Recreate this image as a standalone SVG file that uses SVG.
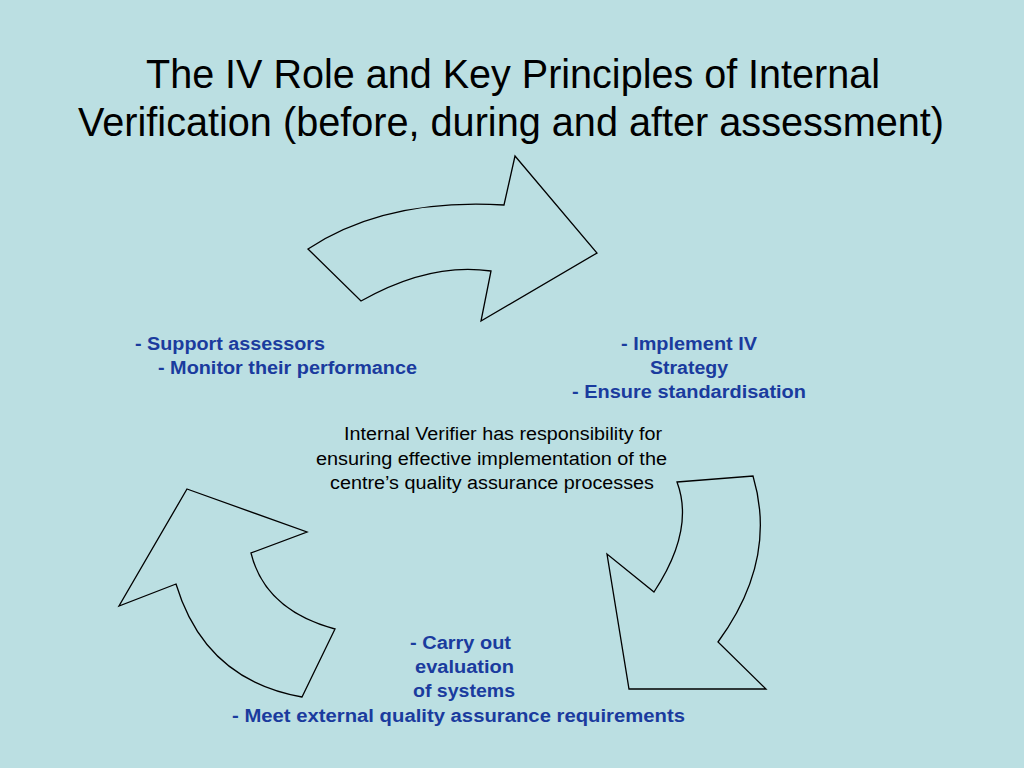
<svg xmlns="http://www.w3.org/2000/svg" width="1024" height="768" viewBox="0 0 1024 768">
<style>
.title{font-family:"Liberation Sans",Arial,sans-serif;font-size:40px;fill:#000}
.blue{font-family:"Liberation Sans",Arial,sans-serif;font-size:18px;font-weight:bold;fill:#1a3b9e}
.body{font-family:"Liberation Sans",Arial,sans-serif;font-size:18px;fill:#000}
.arrow{fill:#bbdfe2;stroke:#000;stroke-width:1.3;stroke-linejoin:miter}
</style>
<rect width="1024" height="768" fill="#bbdfe2"/>
<g id="title">
<text class="title" x="146" y="88" textLength="734" lengthAdjust="spacingAndGlyphs">The IV Role and Key Principles of Internal</text>
<text class="title" x="78" y="136" textLength="866" lengthAdjust="spacingAndGlyphs">Verification (before, during and after assessment)</text>
</g>
<g id="connectors">
<path id="arrow-top" class="arrow" d="M308,249 Q385,198 504,205 L515,156 L597,253 L481,321 L491,271 Q430,262 361,301 Z"/>
<path id="arrow-right" class="arrow" d="M677,482 L753,476 Q778,560 718,642 L766,689 L629,689 L607,554 L654,592 Q695,530 677,482 Z"/>
<path id="arrow-left" class="arrow" d="M187,489 L307,532 L251,553 Q265,610 335,629 L302,697 Q205,680 176,584 L119,606 Z"/>
</g>
<g id="node-left">
<text class="blue" x="135" y="350" textLength="190" lengthAdjust="spacingAndGlyphs">- Support assessors</text>
<text class="blue" x="158" y="374" textLength="259" lengthAdjust="spacingAndGlyphs">- Monitor their performance</text>
</g>
<g id="node-right">
<text class="blue" x="621" y="350" textLength="136" lengthAdjust="spacingAndGlyphs">- Implement IV</text>
<text class="blue" x="650" y="374" textLength="78" lengthAdjust="spacingAndGlyphs">Strategy</text>
<text class="blue" x="572" y="398" textLength="234" lengthAdjust="spacingAndGlyphs">- Ensure standardisation</text>
</g>
<g id="node-center">
<text class="body" x="344" y="440" textLength="318" lengthAdjust="spacingAndGlyphs">Internal Verifier has responsibility for</text>
<text class="body" x="316" y="465" textLength="351" lengthAdjust="spacingAndGlyphs">ensuring effective implementation of the</text>
<text class="body" x="330" y="489" textLength="324" lengthAdjust="spacingAndGlyphs">centre’s quality assurance processes</text>
</g>
<g id="node-bottom">
<text class="blue" x="410" y="649" textLength="101" lengthAdjust="spacingAndGlyphs">- Carry out</text>
<text class="blue" x="415" y="673" textLength="99" lengthAdjust="spacingAndGlyphs">evaluation</text>
<text class="blue" x="413" y="697" textLength="102" lengthAdjust="spacingAndGlyphs">of systems</text>
<text class="blue" x="232" y="722" textLength="453" lengthAdjust="spacingAndGlyphs">- Meet external quality assurance requirements</text>
</g>
</svg>
